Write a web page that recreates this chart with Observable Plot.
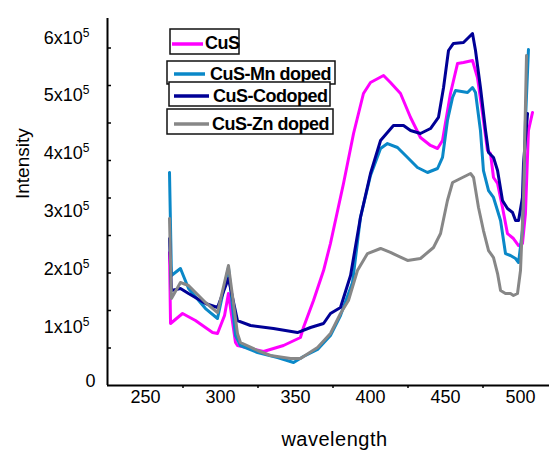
<!DOCTYPE html>
<html><head><meta charset="utf-8">
<script src="https://cdn.jsdelivr.net/npm/d3@7"></script>
<script src="https://cdn.jsdelivr.net/npm/@observablehq/plot@0.6"></script>
<style>
body{margin:0;background:#fff}
#chart{position:relative;width:549px;height:450px;overflow:hidden}
#legend{position:absolute;left:0;top:0}
</style>
</head><body><div id="chart"></div>
<script>
// ---- data ----
const wavelengthTicks = [250, 300, 350, 400, 450, 500];
const wavelengthMinorTicks = [275, 325, 375, 425, 475];
const intensityTicks = [0, 100000, 200000, 300000, 400000, 500000, 600000];
const intensityMinorTicks = [64700, 129400, 194100, 258800, 323500, 388200, 452900, 517600, 582300];
const seriesNames = ["CuS", "CuS-Mn doped", "CuS-Codoped", "CuS-Zn doped"];
const seriesColors = ["#ff00ff", "#0a88c8", "#000096", "#878787"];

const cusData = [[266,229500],[266.7,107000],[274.7,124200],[283.3,112100],[294.7,91400],[298,89700],[302.7,120800],[305.3,158700],[310,74200],[311.3,69000],[320,63800],[328.7,58700],[342,69000],[353.3,82800],[355.3,100100],[362,146600],[368.7,198400],[373.3,245000],[382,348500],[388.7,434800],[395.3,503800],[400,522800],[408.7,534800],[413.3,522800],[420,503800],[426.7,462400],[433.3,427900],[440,414100],[444.7,408900],[448,422700],[453.3,503800],[458,555500],[462,557300],[468,560700],[471.3,531400],[474.7,469300],[478,405500],[480,400300],[482,358900],[484.7,348500],[488,307100],[491.3,262200],[495.3,253600],[498.7,241500],[501.3,245000],[503.3,296800],[505.3,440000],[508,471000]];
const cusMnData = [[266,367500],[267.3,189800],[273.3,201900],[278.7,167400],[290,132800],[298,115600],[305.3,203600],[310,86300],[313.3,69000],[324.7,56900],[338,48300],[348.7,39700],[355.3,50000],[364.7,62100],[373.3,86300],[380,120800],[388,177700],[393.3,289900],[400,362300],[406.7,408900],[411.3,417500],[418,410600],[424.7,393400],[431.3,376100],[438,367500],[444.7,374400],[448,393400],[451.3,457200],[454.7,496900],[456.7,509000],[464.7,505500],[468,514100],[470,505500],[473.3,440000],[475.3,370900],[478.7,336400],[482,324400],[486.7,284700],[490,227700],[493.3,224300],[496.7,219100],[498.7,212200],[501.3,267400],[503.3,457200],[505.3,579700]];
const cusCoData = [[266,253600],[267.3,163900],[273.3,167400],[278.7,158700],[290,141500],[298,134600],[305.3,184600],[311.3,112100],[320,103500],[335.3,98300],[351.3,91400],[360,100100],[368.7,107000],[373.3,124200],[380,134600],[386.7,189800],[393.3,289900],[400,365800],[406.7,422700],[415.3,448600],[422,448600],[426.7,440000],[433.3,434800],[440,443400],[445.3,462400],[448.7,514100],[452,578000],[455.3,590100],[462,591800],[466.7,603900],[468,607300],[470,578000],[473.3,514100],[476.7,440000],[478.7,402000],[482,393400],[484.7,370900],[488,319200],[491.3,305400],[494.7,298500],[496.7,284700],[498.7,284700],[501.3,324400],[502,383000],[504.7,469300]];
const cusZnData = [[266,288100],[267.3,150100],[273.3,177700],[278.7,172500],[290,143200],[298,125900],[305.3,207000],[311.3,89700],[313.3,74200],[324.7,60400],[333.3,51800],[346.7,46600],[353.3,46600],[364.7,65600],[373.3,89700],[380,124200],[385.3,146600],[391.3,198400],[398,227700],[406.7,236400],[413.3,229500],[424.7,215700],[433.3,219100],[442,238100],[446.7,262200],[451.3,319200],[454.7,350200],[460,357100],[466.7,365800],[468.7,358900],[472,307100],[475.3,267400],[478.7,232900],[482,220800],[484.7,193200],[486.7,163900],[490,158700],[493.3,158700],[495.3,155300],[498,158700],[500,198400],[502,324400],[504,569300]];

const seriesData = [cusData, cusMnData, cusCoData, cusZnData];
const table = [];
seriesData.forEach((arr, i) => {
  for (const [w, v] of arr) table.push({series: seriesNames[i], wavelength: w, intensity: v});
});

const xDomain = [224.67, 519.33];
const yDomain = [0, 633200];
const font = "'Liberation Sans', Arial, sans-serif";

const plot = Plot.plot({
  width: 549, height: 450,
  marginTop: 18, marginRight: 0, marginBottom: 65, marginLeft: 107,
  style: {fontFamily: font, fontSize: "18px", color: "#000", background: "#fff", overflow: "visible"},
  x: {domain: xDomain, label: null},
  y: {domain: yDomain, label: null},
  color: {domain: seriesNames, range: seriesColors},
  marks: [
    Plot.line(table, {x: "wavelength", y: "intensity", stroke: "series", z: "series", strokeWidth: 3, strokeLinejoin: "round", strokeLinecap: "round"}),
    Plot.ruleX([xDomain[0]], {stroke: "#000", strokeWidth: 2}),
    Plot.ruleY([yDomain[0]], {stroke: "#000", strokeWidth: 2}),
    Plot.axisX({ticks: wavelengthTicks, tickSize: 0, tickPadding: 5, fontSize: 18, label: null}),
    Plot.axisX({ticks: wavelengthMinorTicks, tickSize: 3, strokeWidth: 1.5, tickFormat: () => "", label: null}),
    Plot.axisY({ticks: [0], tickSize: 0, tickPadding: 12, dy: -4, fontSize: 18, tickFormat: () => "0", label: null}),
    Plot.axisY({ticks: intensityTicks.slice(1), tickSize: 0, tickPadding: 18, fontSize: 18, tickFormat: d => `${d / 1e5}x10`, label: null}),
    Plot.axisY({ticks: intensityMinorTicks, tickSize: 4, dx: 4, strokeWidth: 1.5, tickFormat: () => "", label: null}),
    Plot.text(["wavelength"], {frameAnchor: "bottom", dx: 6, dy: 60, fontSize: 20}),
    Plot.text(["Intensity"], {frameAnchor: "left", rotate: -90, dx: -85, dy: -3, fontSize: 19})
  ]
});

// superscript exponents on y tick labels, spacing on axis title
const svgns = "http://www.w3.org/2000/svg";
plot.querySelectorAll("text").forEach(t => {
  if (/^\dx10$/.test(t.textContent)) {
    const ts = document.createElementNS(svgns, "tspan");
    ts.setAttribute("dy", "-7");
    ts.setAttribute("font-size", "12");
    ts.textContent = "5";
    t.appendChild(ts);
  }
  if (t.textContent === "wavelength") t.setAttribute("letter-spacing", "0.5px");
});
document.getElementById("chart").appendChild(plot);

// legend overlay
const legendBoxes = [
  {x: 170, y: 29, w: 69, h: 25, lx1: 172, lx2: 203, ly: 44, tx: 205, ty: 49},
  {x: 167, y: 61, w: 168, h: 23, lx1: 174, lx2: 205, ly: 74, tx: 210, ty: 80},
  {x: 169, y: 82, w: 161, h: 24, lx1: 174, lx2: 209, ly: 96, tx: 213, ty: 101.5},
  {x: 167, y: 109, w: 166, h: 25, lx1: 174, lx2: 209, ly: 124, tx: 212, ty: 130}
];
const leg = d3.select("#chart").append("svg").attr("id", "legend")
  .attr("width", 549).attr("height", 450);
seriesNames.forEach((name, i) => {
  const b = legendBoxes[i];
  const g = leg.append("g");
  g.append("rect").attr("x", b.x).attr("y", b.y).attr("width", b.w).attr("height", b.h)
    .attr("fill", "#fff").attr("stroke", "#111").attr("stroke-width", 1.5);
  g.append("line").attr("x1", b.lx1).attr("x2", b.lx2).attr("y1", b.ly).attr("y2", b.ly)
    .attr("stroke", seriesColors[i]).attr("stroke-width", 3.5);
  g.append("text").attr("x", b.tx).attr("y", b.ty).text(name)
    .attr("font-family", font).attr("font-size", 18).attr("font-weight", "bold")
    .attr("letter-spacing", "-0.5px").attr("fill", "#000");
});
</script>
</body></html>
